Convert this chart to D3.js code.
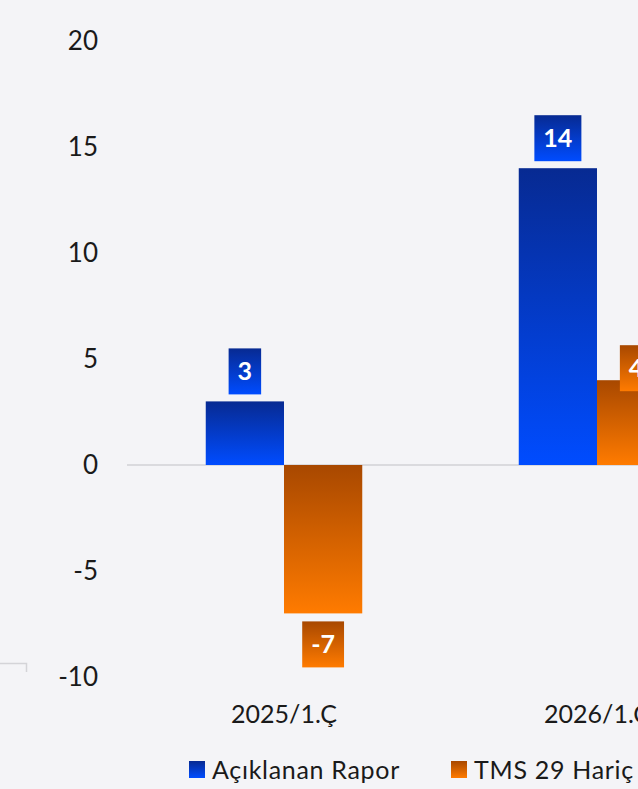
<!DOCTYPE html>
<meta charset="utf-8">
<title>Bar chart</title>
<script src="https://cdn.jsdelivr.net/npm/d3@7"></script>
<style>
  body { margin: 0; background: #f4f4f7; }
  svg { display: block; font-family: "Lato", "Open Sans", sans-serif; }
  .tick-label { font-size: 26px; fill: #1a1a1a; }
  .cat-label { font-size: 25px; fill: #1a1a1a; }
  .legend-label { font-size: 25px; fill: #1a1a1a; letter-spacing: 0.7px; }
  .data-label { font-size: 25px; font-weight: bold; fill: #fff; }
</style>
<body>
<svg></svg>
<script>
var categories = ["2025/1.Ç", "2026/1.Ç"];
var seriesNames = ["Açıklanan Rapor", "TMS 29 Hariç"];
var reported = [3, 14];
var exTms29 = [-7, 4];
var yTicks = [-10, -5, 0, 5, 10, 15, 20];

var width = 638, height = 789;

var svg = d3.select("svg")
    .attr("width", width)
    .attr("height", height);

var defs = svg.append("defs");

// vertical gradients, dark at the top
function grad(id, top, bottom) {
  var g = defs.append("linearGradient")
      .attr("id", id)
      .attr("x1", 0).attr("y1", 0).attr("x2", 0).attr("y2", 1);
  g.append("stop").attr("offset", "0%").attr("stop-color", top);
  g.append("stop").attr("offset", "100%").attr("stop-color", bottom);
}
grad("blue", "#072a92", "#004cff");
grad("orange", "#a84800", "#ff7b00");

var colors = ["url(#blue)", "url(#orange)"];

var y = d3.scaleLinear()
    .domain([-10, 20])
    .range([677, 41]);

var x = d3.scaleBand()
    .domain(categories)
    .range([127.5, 753.5]);

var xs = d3.scaleBand()
    .domain([0, 1])
    .range([0, x.bandwidth()])
    .paddingOuter(1)
    .paddingInner(0);

// stray border corner bottom-left
svg.append("path")
    .attr("d", "M0,663.5H26.5V672")
    .attr("fill", "none")
    .attr("stroke", "#d4d4d8")
    .attr("stroke-width", 1.5);

// y tick labels
svg.append("g").selectAll("text")
    .data(yTicks)
  .enter().append("text")
    .attr("class", "tick-label")
    .attr("x", 98)
    .attr("y", function(d) { return y(d); })
    .attr("dy", "0.36em")
    .attr("text-anchor", "end")
    .text(function(d) { return d; });

// zero line
svg.append("line")
    .attr("x1", 127).attr("x2", width)
    .attr("y1", y(0)).attr("y2", y(0))
    .attr("stroke", "#dadade")
    .attr("stroke-width", 2);

var rows = [];
categories.forEach(function(c, i) {
  rows.push({ cat: c, s: 0, v: reported[i] });
  rows.push({ cat: c, s: 1, v: exTms29[i] });
});

// bars
svg.append("g").selectAll("rect")
    .data(rows)
  .enter().append("rect")
    .attr("x", function(d) { return x(d.cat) + xs(d.s); })
    .attr("width", xs.bandwidth())
    .attr("y", function(d) { return y(Math.max(0, d.v)); })
    .attr("height", function(d) { return Math.abs(y(d.v) - y(0)); })
    .attr("fill", function(d) { return colors[d.s]; });

// data labels (the last one gets nudged down by the layout)
var nudge = [0, 0, 0, 18];
var lab = svg.append("g").selectAll("g")
    .data(rows)
  .enter().append("g");

lab.append("rect").attr("fill", function(d) { return colors[d.s]; });
lab.append("text")
    .attr("class", "data-label")
    .attr("text-anchor", "middle")
    .attr("dy", "0.36em")
    .text(function(d) { return d.v; });

lab.each(function(d, i) {
  var g = d3.select(this);
  var tw = g.select("text").node().getComputedTextLength();
  var bw = tw + 18, bh = 46;
  var cx = x(d.cat) + xs(d.s) + xs.bandwidth() / 2;
  var top = d.v >= 0 ? y(d.v) - 7 - bh : y(d.v) + 8;
  top += nudge[i];
  g.select("rect")
      .attr("x", cx - bw / 2).attr("y", top)
      .attr("width", bw).attr("height", bh);
  g.select("text").attr("x", cx).attr("y", top + bh / 2);
});

// category labels
svg.append("g").selectAll("text")
    .data(categories)
  .enter().append("text")
    .attr("class", "cat-label")
    .attr("x", function(d) { return x(d) + x.bandwidth() / 2; })
    .attr("y", 723)
    .attr("text-anchor", "middle")
    .text(function(d) { return d; });

// legend
var legX = [189, 451];
var leg = svg.append("g").selectAll("g")
    .data(seriesNames)
  .enter().append("g")
    .attr("transform", function(d, i) { return "translate(" + legX[i] + ",761)"; });

leg.append("rect")
    .attr("width", 16).attr("height", 17)
    .attr("fill", function(d, i) { return colors[i]; });

leg.append("text")
    .attr("class", "legend-label")
    .attr("x", 23)
    .attr("y", 18)
    .text(function(d) { return d; });
</script>
</body>
